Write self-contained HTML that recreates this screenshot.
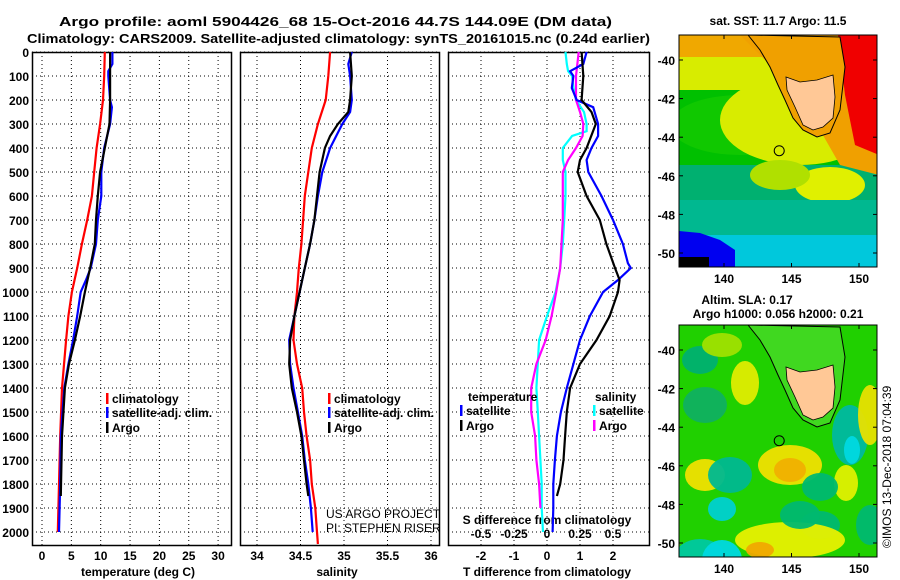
<!DOCTYPE html>
<html><head><meta charset="utf-8">
<style>
html,body{margin:0;padding:0;background:#fff;}
svg{display:block;font-family:"Liberation Sans",Arial,sans-serif;}
.t{font-weight:bold;font-size:13px;}
.tk{font-weight:bold;font-size:12px;}
</style></head>
<body>
<svg id="chart" width="900" height="580" viewBox="0 0 900 580" xmlns="http://www.w3.org/2000/svg">
<text class="t" x="59" y="26" textLength="553" lengthAdjust="spacingAndGlyphs">Argo profile: aoml 5904426_68 15-Oct-2016 44.7S 144.09E (DM data)</text>
<text class="t" x="27" y="43" textLength="623" lengthAdjust="spacingAndGlyphs">Climatology: CARS2009. Satellite-adjusted climatology: synTS_20161015.nc (0.24d earlier)</text>
<g id="panels"></g>
<g id="maps"></g>
</svg>
<script>
// ---------- data ----------
const depthTicks=[0,100,200,300,400,500,600,700,800,900,1000,1100,1200,1300,1400,1500,1600,1700,1800,1900,2000];
const tempTicks=[0,5,10,15,20,25,30];
const salTicks=[34,34.5,35,35.5,36];
const salTickLabels=["34","34.5","35","35.5","36"];
const tdTicks=[-2,-1,0,1,2];
const sdTicks=[-0.5,-0.25,0,0.25,0.5];
const sdTickLabels=["-0.5","-0.25","0","0.25","0.5"];

const tClimD=[0,100,200,300,400,500,600,700,800,900,1000,1100,1200,1400,1600,1800,2000];
const tClim=[10.7,10.6,10.4,9.9,9.3,8.9,8.5,7.7,6.8,6.0,5.1,4.5,4.1,3.4,3.1,2.9,2.7];
const tSatD=[0,50,80,100,200,230,300,400,500,600,700,800,900,950,1000,1100,1200,1300,1400,1600,1800,2000];
const tSat=[12.0,12.0,11.3,11.3,11.6,11.9,11.6,10.6,10.1,10.1,9.5,9.2,8.3,7.5,6.6,6.0,5.3,4.5,3.8,3.2,3.1,2.9];
const tArgoD=[0,100,200,300,400,500,600,700,800,900,1000,1100,1200,1300,1400,1600,1850];
const tArgo=[11.6,11.6,11.6,11.5,10.7,9.9,9.5,9.2,9.0,8.2,7.3,6.5,5.6,4.6,3.9,3.4,3.2];

const sClimD=[0,100,200,300,400,500,600,700,800,900,1000,1100,1200,1300,1400,1500,1600,1700,1800,1900,2000,2050];
const sClim=[34.84,34.82,34.79,34.70,34.63,34.59,34.55,34.53,34.51,34.48,34.46,34.43,34.42,34.46,34.52,34.54,34.57,34.61,34.63,34.67,34.69,34.70];
const sSatD=[0,50,100,200,250,300,400,500,600,700,800,900,1000,1100,1200,1300,1400,1500,1600,1700,1800,1900,2000];
const sSat=[35.09,35.05,35.07,35.09,35.07,34.98,34.84,34.75,34.70,34.66,34.61,34.55,34.49,34.43,34.37,34.38,34.42,34.47,34.52,34.55,34.59,34.62,34.64];
const sArgoD=[0,100,200,250,300,350,400,500,600,700,800,900,1000,1100,1200,1300,1400,1500,1600,1700,1800,1850];
const sArgo=[35.07,35.09,35.07,35.05,34.93,34.84,34.78,34.72,34.69,34.66,34.61,34.55,34.49,34.43,34.38,34.37,34.40,34.46,34.51,34.54,34.57,34.59];

const dtArgoD=[0,100,200,250,300,400,450,500,600,700,800,900,950,1000,1100,1200,1300,1400,1500,1600,1700,1800,1850];
const dtArgo=[1.05,1.1,1.05,1.35,1.48,1.2,1.0,0.93,1.2,1.6,1.8,2.06,2.2,2.15,1.9,1.5,1.0,0.7,0.6,0.55,0.5,0.4,0.3];
const dtSatD=[0,50,80,100,150,200,230,300,350,400,450,500,600,700,800,880,900,950,1000,1100,1200,1300,1400,1500,1600,1700,1800,1900,2000];
const dtSat=[1.2,1.1,0.7,0.8,0.75,0.9,1.4,1.55,1.55,1.35,1.2,1.25,1.65,2.0,2.3,2.45,2.54,2.15,1.7,1.3,1.0,0.8,0.6,0.42,0.3,0.24,0.19,0.19,0.17];
const dsArgoD=[0,100,200,250,300,350,400,450,500,600,700,800,900,1000,1100,1200,1300,1400,1500,1600,1700,1800,1900];
const dsArgo=[0.24,0.22,0.22,0.25,0.275,0.27,0.22,0.16,0.12,0.12,0.12,0.11,0.10,0.07,0.035,-0.01,-0.08,-0.12,-0.12,-0.09,-0.08,-0.06,-0.05];
const dsSatD=[0,50,80,100,150,200,250,300,330,350,400,450,500,600,700,800,900,1000,1100,1200,1400,1500,1600,1700,1800,1900,2000];
const dsSat=[0.14,0.15,0.16,0.19,0.2,0.22,0.28,0.3,0.3,0.19,0.12,0.12,0.14,0.14,0.13,0.12,0.10,0.065,0.0,-0.06,-0.08,-0.07,-0.06,-0.05,-0.04,-0.04,-0.03];

// ---------- helpers ----------
const NS="http://www.w3.org/2000/svg";
const gP=document.getElementById('panels');
function mk(tag,attrs,parent){const e=document.createElementNS(NS,tag);for(const k in attrs)e.setAttribute(k,attrs[k]);(parent||gP).appendChild(e);return e;}
const TOP=52,BOT=545;
const yD=d=>TOP+d*0.24;
const P1={l:32,r:231},P2={l:240,r:439},P3={l:448,r:649};
const xT=t=>42+5.87*t;
const xS=s=>257+87*(s-34);
const xDT=t=>547+33*t;
const xDS=s=>547+132*s;

function frame(P,name,xs){
  const g=mk('g',{});
  
  
  depthTicks.forEach(d=>{const l=mk('line',{x1:P.l,x2:P.r,y1:yD(d),y2:yD(d),stroke:'#000','stroke-width':1,'stroke-dasharray':'1,3'},g);
    });
  xs.forEach(x=>{const l=mk('line',{x1:x,x2:x,y1:TOP,y2:BOT,stroke:'#000','stroke-width':1,'stroke-dasharray':'1,3'},g);
    });
  const r=mk('rect',{x:P.l+0.5,y:TOP+0.5,width:P.r-P.l,height:BOT-TOP,fill:'none',stroke:'#000','stroke-width':1.5},g);
  
  return g;
}
function line(xs,ds,xf,color,name){
  const pts=xs.map((v,i)=>xf(v).toFixed(1)+','+yD(ds[i]).toFixed(1)).join(' ');
  const p=mk('polyline',{points:pts,fill:'none',stroke:color,'stroke-width':2.2});
  
  
}
function txt(x,y,s,cls,anchor,name,extra){
  const t=mk('text',Object.assign({x:x,y:y,'class':cls,'text-anchor':anchor||'start'},extra||{}));
  t.textContent=s;
  
  
  return t;
}
function legend(x,y,color,label,name){
  const m=mk('rect',{x:x,y:y-10,width:2.5,height:11,fill:color});
  
  
  txt(x+6,y,label,'tk','start',name);
}

// ---------- panel 1 ----------
frame(P1,'temperature-panel',tempTicks.map(xT));
depthTicks.forEach(d=>txt(29,yD(d)+5,String(d),'tk','end','y-tick-label'));
tempTicks.forEach(t=>txt(xT(t),560,String(t),'tk','middle','x-tick-label'));
txt(138,576,'temperature (deg C)','tk','middle','x-axis-title');
line(tClim,tClimD,xT,'#f00','temp-climatology-line');
line(tSat,tSatD,xT,'#00f','temp-satellite-line');
line(tArgo,tArgoD,xT,'#000','temp-argo-line');
legend(106,403,'#f00','climatology','legend-climatology');
legend(106,417,'#00f','satellite-adj. clim.','legend-satellite');
legend(106,432,'#000','Argo','legend-argo');

// ---------- panel 2 ----------
frame(P2,'salinity-panel',salTicks.map(xS));
salTicks.forEach((s,i)=>txt(xS(s),560,salTickLabels[i],'tk','middle','x-tick-label'));
txt(337,576,'salinity','tk','middle','x-axis-title');
line(sClim,sClimD,xS,'#f00','sal-climatology-line');
line(sSat,sSatD,xS,'#00f','sal-satellite-line');
line(sArgo,sArgoD,xS,'#000','sal-argo-line');
legend(328,403,'#f00','climatology','legend-climatology');
legend(328,417,'#00f','satellite-adj. clim.','legend-satellite');
legend(328,432,'#000','Argo','legend-argo');
txt(326,518,'US ARGO PROJECT','','start','project-credit',{'font-size':'12px'});
txt(326,532,'PI: STEPHEN RISER','','start','pi-credit',{'font-size':'12px'});

// ---------- panel 3 ----------
frame(P3,'difference-panel',tdTicks.map(xDT));
tdTicks.forEach(t=>txt(xDT(t),560,String(t),'tk','middle','x-tick-label'));
txt(547,576,'T difference from climatology','tk','middle','x-axis-title');
txt(547,524,'S difference from climatology','tk','middle','s-axis-title');
sdTicks.forEach((s,i)=>txt(xDS(s),538,sdTickLabels[i],'tk','middle','s-tick-label'));
line(dsSat,dsSatD,xDS,'#0ff','sdiff-satellite-line');
line(dsArgo,dsArgoD,xDS,'#f0f','sdiff-argo-line');
line(dtSat,dtSatD,xDT,'#00f','tdiff-satellite-line');
line(dtArgo,dtArgoD,xDT,'#000','tdiff-argo-line');
txt(468,401,'temperature','tk','start','legend-temperature-heading');
legend(460,415,'#00f','satellite','legend-t-satellite');
legend(460,430,'#000','Argo','legend-t-argo');
txt(595,401,'salinity','tk','start','legend-salinity-heading');
legend(593,415,'#0ff','satellite','legend-s-satellite');
legend(593,430,'#f0f','Argo','legend-s-argo');
</script>
<script>
// ---------- maps (raster imagery approximated) ----------
(function(){
const NS="http://www.w3.org/2000/svg";
const gM=document.getElementById('maps');
function mk(tag,attrs,parent){const e=document.createElementNS(NS,tag);for(const k in attrs)e.setAttribute(k,attrs[k]);(parent||gM).appendChild(e);return e;}
const L=679,R=877;
const lonX=lon=>724+13.5*(lon-140);
function latY(top,lat){return top+25+19.3*(-40-lat);}
const tas=[[786,77],[800,82],[817,80],[833,75],[835,97],[833,118],[823,127],[813,130],[803,125],[795,107],[787,90]];
const contour=[[748,35],[760,50],[770,67],[778,85],[785,100],[793,118],[803,130],[817,137],[830,133],[840,110],[845,67],[840,37]];
function map(top,kind,name,titleLines){
  const g=mk('g',{});
  
  
  const H=232;
  const cid='clip'+kind;
  const cp=mk('clipPath',{id:cid},g);mk('rect',{x:L,y:top,width:R-L,height:H},cp);
  const c=mk('g',{'clip-path':'url(#'+cid+')'},g);
  const rect=(x,y,w,h,f)=>mk('rect',{x:x,y:top+y,width:w,height:h,fill:f},c);
  const ell=(cx,cy,rx,ry,f,o)=>mk('ellipse',{cx:cx,cy:top+cy,rx:rx,ry:ry,fill:f,opacity:o||1},c);
  if(kind==='sst'){
    rect(L,0,200,232,'#00c8dc');
    rect(L,0,200,170,'#00b070');
    rect(L,0,200,130,'#00c000');
    ell(740,90,70,30,'#10c800');
    rect(L,0,200,55,'#d8ec00');
    ell(800,85,80,45,'#d8ec00');
    ell(830,150,35,18,'#e0f000');
    ell(780,140,30,15,'#b0e000');
    rect(L,0,200,22,'#f0a800');
    mk('polygon',{points:[[740,top],[L+200,top],[L+200,top+140],[840,top+130],[800,top+60]].map(p=>p.join(',')).join(' '),fill:'#f0a000'},c);
    mk('polygon',{points:[[838,top],[L+200,top],[L+200,top+120],[855,top+110],[845,top+60]].map(p=>p.join(',')).join(' '),fill:'#f00000'},c);
    rect(L,165,200,35,'#00b890');
    mk('polygon',{points:[[L,top+232],[L,top+196],[700,top+198],[720,top+205],[735,top+215],[735,top+232]].map(p=>p.join(',')).join(' '),fill:'#0000f0'},c);
    rect(L,222,30,10,'#000');
  } else {
    rect(L,0,200,232,'#20d000');
    const blobs=[[700,35,18,14,'#00b070'],[722,20,20,12,'#a0e000'],[745,58,14,22,'#e0ec00'],[705,80,22,18,'#10b060'],
      [705,150,20,16,'#f0e000'],[730,150,22,18,'#00b890'],[722,184,14,12,'#00d0d0'],[790,140,32,20,'#f0e000'],[790,145,16,12,'#f0b000'],
      [820,200,20,14,'#00b870'],[700,232,25,18,'#00c8a0'],[722,235,20,20,'#00d8e0'],[790,215,55,18,'#e8f000'],[760,225,14,8,'#f0a800'],
      [850,110,18,30,'#00b8a0'],[852,125,8,14,'#00d8e0'],[870,90,12,30,'#e8e000'],[846,158,12,18,'#e0f000'],[820,162,18,14,'#00b870'],
      [870,200,14,20,'#00b870'],[800,190,20,14,'#00b870']];
    blobs.forEach(b=>ell(b[0],b[1],b[2],b[3],b[4],0.95));
  }
  mk('polygon',{points:contour.map(p=>p[0]+','+(p[1]-35+top)).join(' '),fill:kind==='sst'?'#f0a000':'#40d820',stroke:'#000','stroke-width':1},c);
  const land=mk('polygon',{points:tas.map(p=>p[0]+','+(p[1]-35+top)).join(' '),fill:'#ffc896',stroke:'#000','stroke-width':0.8},c);
  
  
  const pt=mk('circle',{cx:lonX(144.09),cy:latY(top,-44.7),r:5,fill:'none',stroke:'#000','stroke-width':1},g);
  
  
  const fr=mk('rect',{x:L,y:top,width:R-L,height:H,fill:'none',stroke:'#000','stroke-width':1},g);
  
  
  [140,145,150].forEach(lon=>{
    mk('line',{x1:lonX(lon),x2:lonX(lon),y1:top,y2:top+4,stroke:'#000'},g);
    mk('line',{x1:lonX(lon),x2:lonX(lon),y1:top+H,y2:top+H-4,stroke:'#000'},g);
    const t=mk('text',{x:lonX(lon),y:top+H+16,'class':'tk','text-anchor':'middle'},g);t.textContent=String(lon);
    
  });
  [-40,-42,-44,-46,-48,-50].forEach(lat=>{
    const y=latY(top,lat);
    mk('line',{x1:R-4,x2:R,y1:y,y2:y,stroke:'#000'},g);
    mk('line',{x1:L,x2:L+4,y1:y,y2:y,stroke:'#000'},g);
    const t=mk('text',{x:675,y:y+5,'class':'tk','text-anchor':'end'},g);t.textContent=String(lat);
    
  });
  titleLines.forEach((s,i)=>{
    const t=mk('text',{x:s[1],y:s[2],'class':'tk','text-anchor':'middle'},g);t.textContent=s[0];
    
  });
}
map(35,'sst','sst-map',[['sat. SST: 11.7 Argo: 11.5',778,25]]);
map(325,'sla','sla-map',[['Altim. SLA: 0.17',747,304],['Argo h1000: 0.056 h2000: 0.21',778,318]]);
const cr=mk('text',{x:0,y:0,'font-size':'12px',transform:'translate(891,548) rotate(-90)'});
cr.textContent='©IMOS 13-Dec-2018 07:04:39';


})();
</script>
</body></html>
